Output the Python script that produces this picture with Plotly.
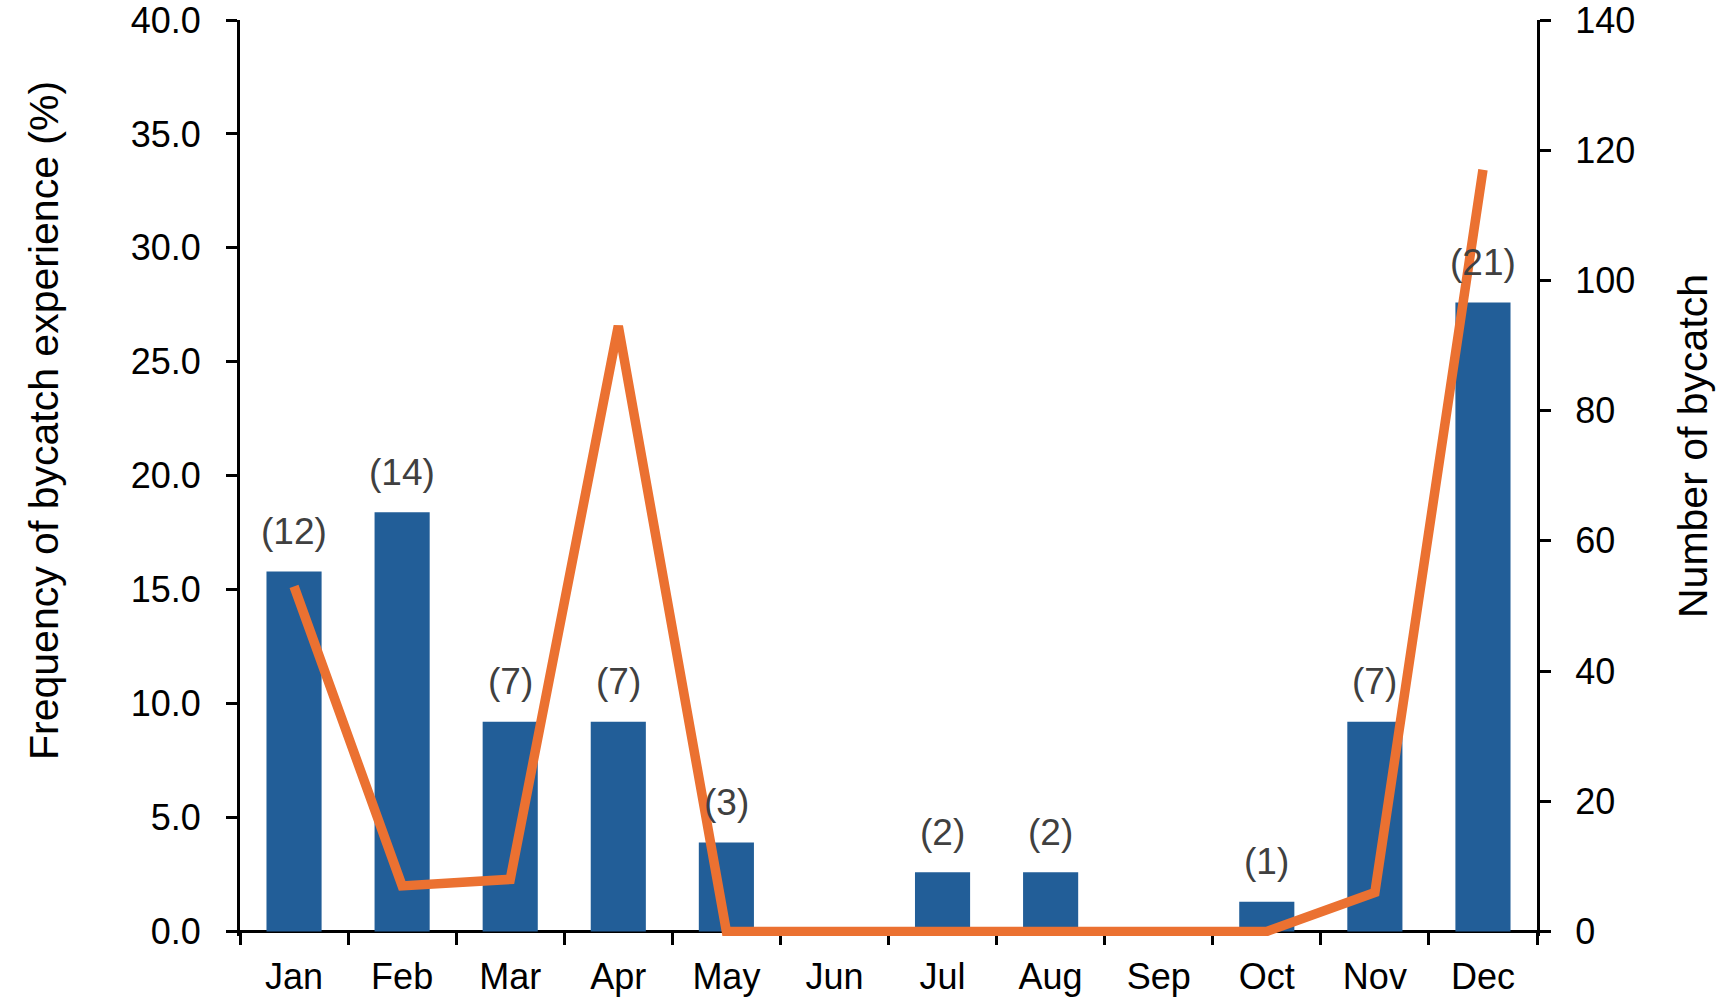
import plotly.graph_objects as go

months = ["Jan", "Feb", "Mar", "Apr", "May", "Jun", "Jul", "Aug", "Sep", "Oct", "Nov", "Dec"]
freq_pct = [15.8, 18.4, 9.2, 9.2, 3.9, 0.0, 2.6, 2.6, 0.0, 1.3, 9.2, 27.6]
resp_counts = [12, 14, 7, 7, 3, None, 2, 2, None, 1, 7, 21]
bycatch_num = [53, 7, 8, 93, 0, 0, 0, 0, 0, 0, 6, 117]

FONT = "Liberation Sans, Arial, sans-serif"
BAR_COLOR = "#225E98"
LINE_COLOR = "#EB7131"

W, H = 1732, 1002
L, R, T, B = 240, 195, 20, 66
plot_w = W - L - R
plot_h = H - T - B
neg = 0.2  # small room below zero so the thick line is not clipped

fig = go.Figure()
fig.add_trace(go.Bar(
    x=months, y=freq_pct, marker=dict(color=BAR_COLOR, line=dict(width=0)),
    width=0.51, yaxis="y", showlegend=False,
))
fig.add_trace(go.Scatter(
    x=months, y=bycatch_num, mode="lines", yaxis="y2",
    line=dict(color=LINE_COLOR, width=9.5), showlegend=False,
))

annotations = []
for m, v, c in zip(months, freq_pct, resp_counts):
    if c is None:
        continue
    annotations.append(dict(
        x=m, y=v, xref="x", yref="y", text=f"({c})", showarrow=False,
        yshift=40, yanchor="middle", xanchor="center",
        font=dict(family=FONT, size=37, color="#404040"),
    ))

def px_to_paper_x(px):
    return (px - L) / plot_w

def px_to_paper_y(py):
    return (H - B - py) / plot_h

annotations.append(dict(
    x=px_to_paper_x(44), y=px_to_paper_y(421), xref="paper", yref="paper",
    text="Frequency of bycatch experience (%)", textangle=-90, showarrow=False,
    xanchor="center", yanchor="middle", font=dict(family=FONT, size=41, color="#000000"),
))
annotations.append(dict(
    x=px_to_paper_x(1693), y=px_to_paper_y(446), xref="paper", yref="paper",
    text="Number of bycatch", textangle=-90, showarrow=False,
    xanchor="center", yanchor="middle", font=dict(family=FONT, size=41, color="#000000"),
))

fig.update_layout(
    width=W, height=H,
    margin=dict(l=L, r=R, t=T, b=B, pad=0, autoexpand=False),
    paper_bgcolor="white", plot_bgcolor="white",
    font=dict(family=FONT, size=36, color="#000000"),
    bargap=0.49,
    annotations=annotations,
    xaxis=dict(
        type="category", range=[-0.5, 11.5], automargin=False,
        anchor="free", position=neg / (40 + neg),
        showline=True, linecolor="black", linewidth=3,
        ticks="outside", tickson="boundaries", ticklen=12, tickwidth=3, tickcolor="black",
        showgrid=False, zeroline=False, layer="below traces", ticklabelstandoff=12,
        ticklabeloverflow="allow",
        tickfont=dict(family=FONT, size=36, color="#000000"),
    ),
    yaxis=dict(
        range=[-neg, 40], tickmode="array", tickvals=[0, 5, 10, 15, 20, 25, 30, 35, 40],
        tickformat=".1f", ticklabeloverflow="allow", automargin=False,
        showline=True, linecolor="black", linewidth=3,
        ticks="outside", ticklen=11, tickwidth=3, tickcolor="black",
        showgrid=False, zeroline=False, ticklabelstandoff=18,
        tickfont=dict(family=FONT, size=36, color="#000000"),
    ),
    yaxis2=dict(
        range=[-neg * 140 / 40, 140], overlaying="y", side="right",
        tickmode="array", tickvals=[0, 20, 40, 60, 80, 100, 120, 140],
        ticklabeloverflow="allow", automargin=False,
        showline=True, linecolor="black", linewidth=3,
        ticks="outside", ticklen=11, tickwidth=3, tickcolor="black",
        showgrid=False, zeroline=False, ticklabelstandoff=17,
        tickfont=dict(family=FONT, size=36, color="#000000"),
    ),
)

fig.write_html(
    "out.html",
    config={"displayModeBar": False},
    post_script="document.body.style.margin='0';document.body.style.overflow='hidden';",
)
